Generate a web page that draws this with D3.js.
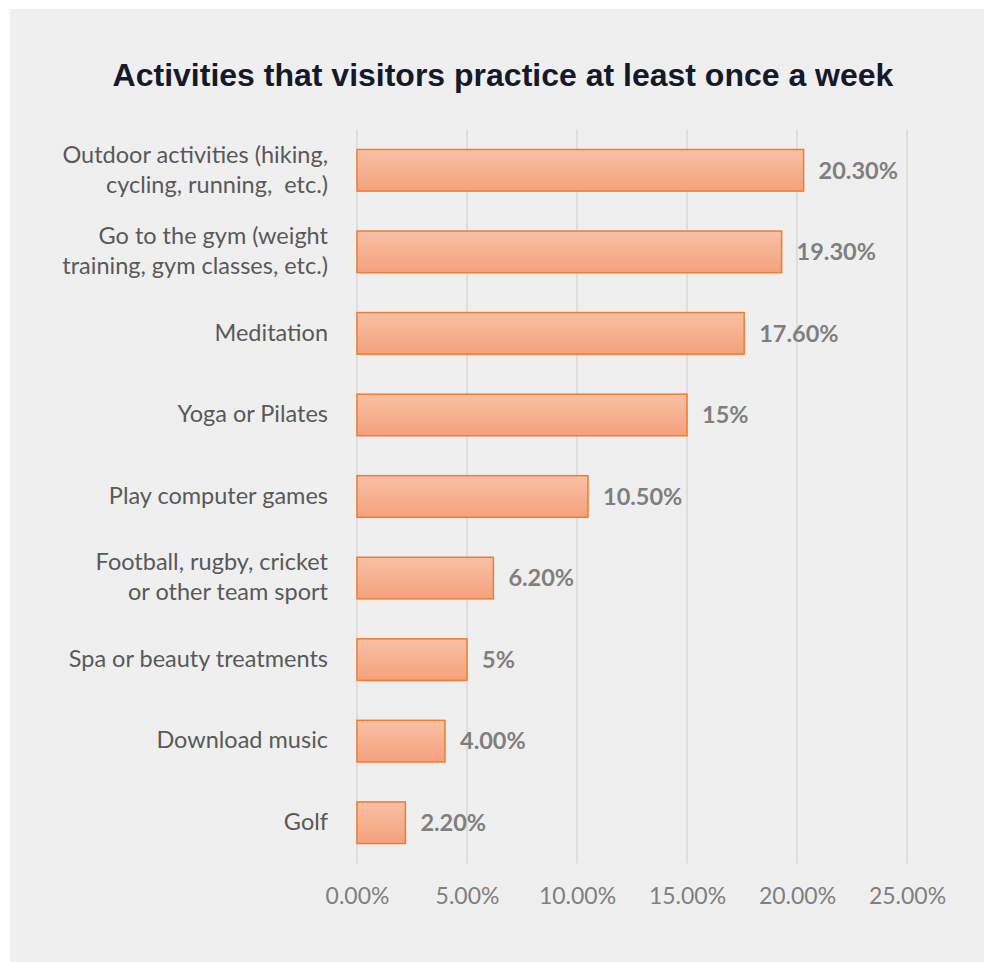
<!DOCTYPE html>
<html>
<head>
<meta charset="utf-8">
<script src="https://cdn.jsdelivr.net/npm/d3@7"></script>
<style>
  html, body { margin: 0; padding: 0; background: #ffffff; }
  svg { display: block; }
  .cat-label { white-space: pre; }
</style>
</head>
<body>
<svg id="chart" width="984" height="962"></svg>
<script>
// Activities and share of visitors practising them weekly (%)
const categories = [
  ["Outdoor activities (hiking,", "cycling, running,  etc.)"],
  ["Go to the gym (weight", "training, gym classes, etc.)"],
  ["Meditation"],
  ["Yoga or Pilates"],
  ["Play computer games"],
  ["Football, rugby, cricket", "or other team sport"],
  ["Spa or beauty treatments"],
  ["Download music"],
  ["Golf"]
];
const values = [20.3, 19.3, 17.6, 15, 10.5, 6.2, 5, 4.0, 2.2];
const valueLabels = ["20.30%", "19.30%", "17.60%", "15%", "10.50%", "6.20%", "5%", "4.00%", "2.20%"];
const tickValues = [0, 5, 10, 15, 20, 25];
const tickLabels = ["0.00%", "5.00%", "10.00%", "15.00%", "20.00%", "25.00%"];
const title = "Activities that visitors practice at least once a week";

const svg = d3.select("#chart");
const labelFont = "'Source Sans Pro', 'Lato', 'Open Sans', sans-serif";

// Panel background
svg.append("rect")
  .attr("x", 10).attr("y", 9)
  .attr("width", 974).attr("height", 953)
  .attr("fill", "#efefef");

// Bar gradient
const defs = svg.append("defs");
const grad = defs.append("linearGradient")
  .attr("id", "barFill")
  .attr("x1", 0).attr("y1", 0).attr("x2", 0).attr("y2", 1);
grad.append("stop").attr("offset", "0%").attr("stop-color", "#f8c0a5");
grad.append("stop").attr("offset", "100%").attr("stop-color", "#f5a17c");

const plot = { left: 357, right: 907, top: 129.5, bottom: 863.5 };

const x = d3.scaleLinear().domain([0, 25]).range([plot.left, plot.right]);
const y = d3.scaleBand()
  .domain(d3.range(categories.length))
  .range([plot.top, plot.bottom])
  .paddingInner(0.49)
  .paddingOuter(0.245);

// Title
svg.append("text")
  .attr("x", 503).attr("y", 86)
  .attr("text-anchor", "middle")
  .attr("font-family", "'Liberation Sans', Arial, sans-serif")
  .attr("font-weight", "bold")
  .attr("font-size", 32)
  .attr("fill", "#141a2a")
  .text(title);

// Vertical gridlines
svg.append("g")
  .selectAll("line")
  .data(tickValues)
  .join("line")
  .attr("x1", d => x(d)).attr("x2", d => x(d))
  .attr("y1", plot.top).attr("y2", plot.bottom)
  .attr("stroke", "#d9d9d9")
  .attr("stroke-width", 1.5);

// X axis tick labels
const xAxis = d3.axisBottom(x)
  .tickValues(tickValues)
  .tickFormat((d, i) => tickLabels[i])
  .tickSize(0)
  .tickPadding(0);
const gx = svg.append("g")
  .attr("transform", `translate(0, ${plot.bottom + 24})`)
  .call(xAxis);
gx.select(".domain").remove();
gx.selectAll("text")
  .attr("font-family", labelFont)
  .attr("font-size", 23)
  .attr("fill", "#808080");

// Bars
svg.append("g")
  .selectAll("rect")
  .data(values)
  .join("rect")
  .attr("x", x(0))
  .attr("y", (d, i) => y(i))
  .attr("width", d => x(d) - x(0))
  .attr("height", y.bandwidth())
  .attr("fill", "url(#barFill)")
  .attr("stroke", "#ed7d31")
  .attr("stroke-width", 1.5);

// Value labels
svg.append("g")
  .selectAll("text")
  .data(values)
  .join("text")
  .attr("x", d => x(d) + 15)
  .attr("y", (d, i) => y(i) + y.bandwidth() / 2)
  .attr("dy", "0.35em")
  .attr("font-family", labelFont)
  .attr("font-weight", "bold")
  .attr("font-size", 23.5)
  .attr("fill", "#7f7f7f")
  .text((d, i) => valueLabels[i]);

// Category labels (right-aligned, may wrap to two lines)
const lineHeight = 30;
const catG = svg.append("g");
categories.forEach((lines, i) => {
  const cy = y(i) + y.bandwidth() / 2;
  const t = catG.append("text")
    .attr("class", "cat-label")
    .attr("text-anchor", "end")
    .attr("font-family", labelFont)
    .attr("font-size", 23.5)
    .attr("fill", "#595959");
  const offset = -(lines.length - 1) * lineHeight / 2 - 1;
  lines.forEach((ln, j) => {
    t.append("tspan")
      .attr("x", 328)
      .attr("y", cy + offset + j * lineHeight)
      .attr("dy", "0.35em")
      .text(ln);
  });
});
</script>
</body>
</html>
